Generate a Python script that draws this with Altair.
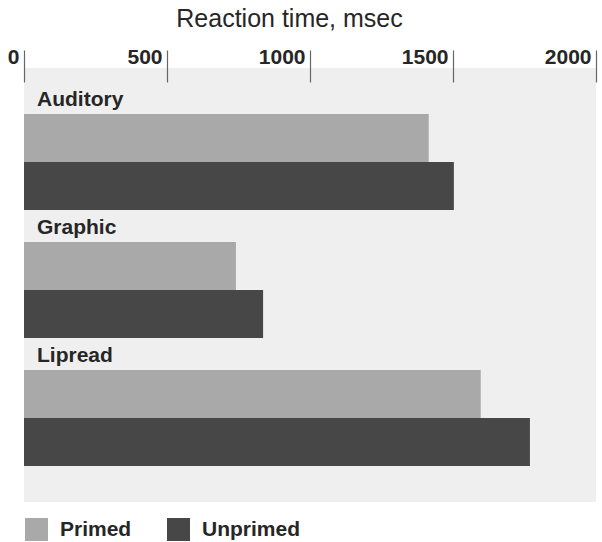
import altair as alt
import pandas as pd

groups = ["Auditory", "Graphic", "Lipread"]
series = ["Primed", "Unprimed"]
primed = [1415, 741, 1597]
unprimed = [1503, 836, 1769]
ticks = [0, 500, 1000, 1500, 2000]
colors = ["#a9a9a9", "#474747"]

rows = []
for g, p, u in zip(groups, primed, unprimed):
    rows.append({"group": g, "series": "Primed", "value": p})
    rows.append({"group": g, "series": "Unprimed", "value": u})
df = pd.DataFrame(rows)
labels = pd.DataFrame({"group": groups})

FONT = "Liberation Sans"

yscale = alt.Scale(domain=groups, paddingInner=0, paddingOuter=0.195, align=0.28)

xenc = alt.X(
    "value:Q",
    scale=alt.Scale(domain=[0, 2000], nice=False),
    axis=alt.Axis(
        orient="top", values=ticks, format="d", title="Reaction time, msec",
        domain=False, grid=False, offset=-14, tickSize=32, tickColor="#666666",
        tickWidth=1.2, labelAlign="right", labelBaseline="alphabetic",
        labelPadding=-13, labelOffset=-5, labelFont=FONT, labelFontSize=21,
        labelFontWeight="bold", labelColor="#262626", labelFlush=False,
        titleFont=FONT, titleFontSize=25, titleFontWeight="normal",
        titleColor="#262626", titlePadding=15, titleX=265, titleAlign="center",
    ),
)

bars = alt.Chart(df).mark_bar().encode(
    x=xenc,
    y=alt.Y("group:N", scale=yscale, axis=None),
    yOffset=alt.YOffset(
        "series:N",
        scale=alt.Scale(domain=series, paddingInner=0, paddingOuter=0.3333, align=1),
    ),
    color=alt.Color(
        "series:N",
        scale=alt.Scale(domain=series, range=colors),
        legend=alt.Legend(
            title=None, orient="none", legendX=1, legendY=450, direction="horizontal",
            symbolType="square", symbolSize=529, symbolStrokeWidth=0,
            labelFont=FONT, labelFontSize=21, labelFontWeight="bold",
            labelColor="#262626", labelOffset=12, columnPadding=35,
        ),
    ),
)

text = alt.Chart(labels).mark_text(
    align="left", baseline="middle", dx=13, dy=18,
    font=FONT, fontSize=21, fontWeight="bold", color="#262626",
).encode(
    x=alt.datum(0),
    y=alt.Y("group:N", scale=yscale, axis=None, bandPosition=0),
    text="group:N",
)

chart = alt.layer(bars, text).properties(
    width=572, height=434,
    autosize=alt.AutoSizeParams(type="none"),
    padding={"left": 24, "top": 68, "right": 6, "bottom": 40},
    background="white",
).configure_view(fill="#efefef", stroke=None)

chart.save("out.html", embed_options={"renderer": "svg", "actions": False})
